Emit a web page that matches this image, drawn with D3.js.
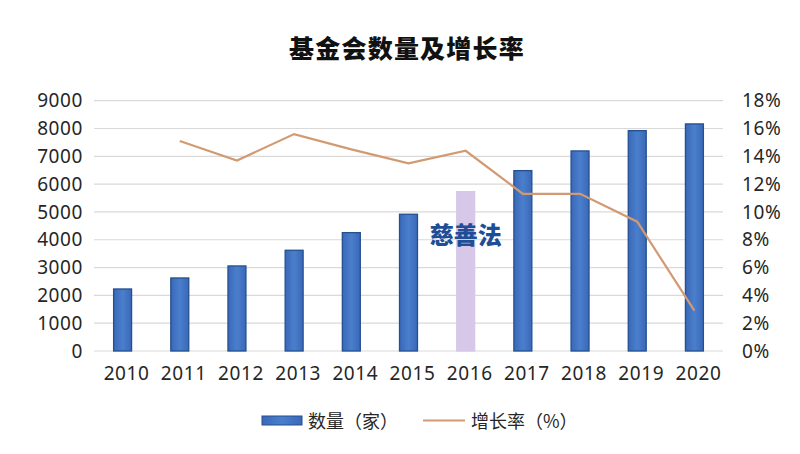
<!DOCTYPE html>
<html><head><meta charset="utf-8">
<script src="https://cdn.jsdelivr.net/npm/d3@7"></script>
<style>body{margin:0;background:#fff}svg{display:block}text{font-family:"Noto Sans CJK SC","Noto Sans",sans-serif}</style>
</head><body><svg id="c" width="800" height="454"></svg>
<script>
const years = ["2010","2011","2012","2013","2014","2015","2016","2017","2018","2019","2020"];
const counts = [2230,2626,3058,3622,4256,4917,5730,6486,7194,7924,8165];
const growth = [null,15.1,13.7,15.6,14.5,13.5,14.4,11.3,11.3,9.3,2.9];
const leftTicks = [0,1000,2000,3000,4000,5000,6000,7000,8000,9000];
const rightTicks = [0,2,4,6,8,10,12,14,16,18];
const highlightYear = "2016";
const annotation = "慈善法";
const title = "基金会数量及增长率";
const legendLabels = ["数量（家）","增长率（%）"];

const svg = d3.select("#c");
const L = 94, R = 723, T = 100.7, B = 351;
const x = d3.scaleBand().domain(years).range([L, R]).paddingInner(0.686).paddingOuter(0.343);
const y = d3.scaleLinear().domain([0, 9000]).range([B, T]);
const y2 = d3.scaleLinear().domain([0, 18]).range([B, T]);
const numFont = "'Noto Sans','Open Sans',sans-serif";

const defs = svg.append("defs");
const g = defs.append("linearGradient").attr("id","bg").attr("x1","0").attr("x2","1").attr("y1","0").attr("y2","0");
g.append("stop").attr("offset","0").attr("stop-color","#3a68b8");
g.append("stop").attr("offset","0.5").attr("stop-color","#4a7fcc");
g.append("stop").attr("offset","1").attr("stop-color","#3a68b8");

// gridlines
svg.append("g").selectAll("line").data(leftTicks).join("line")
  .attr("x1", L).attr("x2", R).attr("y1", d => y(d)).attr("y2", d => y(d))
  .attr("stroke", "#d9d9d9").attr("stroke-width", 1.2);

// title
svg.append("text").attr("x", 407).attr("y", 58).attr("text-anchor","middle")
  .attr("font-size", 25).attr("font-weight", 900).attr("fill","#111").attr("letter-spacing", 1.2).text(title);

// bars
svg.append("g").selectAll("rect").data(years).join("rect")
  .attr("x", d => x(d)).attr("width", x.bandwidth())
  .attr("y", (d,i) => y(counts[i])).attr("height", (d,i) => B - y(counts[i]))
  .attr("fill", d => d === highlightYear ? "#d7c8ea" : "url(#bg)")
  .attr("stroke", d => d === highlightYear ? "#d7c8ea" : "#24508f")
  .attr("stroke-width", 1.3);

// line
const line = d3.line().defined(d => d[1] != null).x(d => x(d[0]) + x.bandwidth()/2).y(d => y2(d[1]));
svg.append("path").datum(years.map((d,i) => [d, growth[i]]))
  .attr("d", line).attr("fill","none").attr("stroke","#d29a73").attr("stroke-width", 2.2);

// annotation
svg.append("text").attr("x", x(highlightYear) + x.bandwidth()/2).attr("y", 244)
  .attr("text-anchor","middle").attr("font-size", 24).attr("font-weight", 900)
  .attr("fill","#1f4e96").text(annotation);

// axes labels
const axL = d3.axisLeft(y).tickValues(leftTicks).tickFormat(d3.format("d")).tickSize(0).tickPadding(11);
svg.append("g").attr("transform", `translate(${L},0)`).call(axL)
  .call(s => s.select(".domain").remove())
  .selectAll("text").attr("font-size", 19).attr("letter-spacing", 0.6).attr("fill","#262626").style("font-family", numFont);
const axR = d3.axisRight(y2).tickValues(rightTicks).tickFormat(d => d + "%").tickSize(0).tickPadding(19);
svg.append("g").attr("transform", `translate(${R},0)`).call(axR)
  .call(s => s.select(".domain").remove())
  .selectAll("text").attr("font-size", 19).attr("letter-spacing", 0.6).attr("fill","#262626").style("font-family", numFont);
const axB = d3.axisBottom(x).tickSize(0).tickPadding(16);
svg.append("g").attr("transform", `translate(4,${B})`).call(axB)
  .call(s => s.select(".domain").remove())
  .selectAll("text").attr("font-size", 19).attr("letter-spacing", 0.6).attr("fill","#262626").style("font-family", numFont);

// legend
const lg = svg.append("g");
lg.append("rect").attr("x", 262).attr("y", 416).attr("width", 40).attr("height", 9)
  .attr("fill","url(#bg)").attr("stroke","#24508f").attr("stroke-width",1);
lg.append("text").attr("x", 308).attr("y", 428).attr("font-size", 18).attr("fill","#262626").text(legendLabels[0]);
lg.append("line").attr("x1", 423).attr("x2", 465).attr("y1", 420.5).attr("y2", 420.5)
  .attr("stroke","#d29a73").attr("stroke-width", 2.2);
lg.append("text").attr("x", 471).attr("y", 428).attr("font-size", 18).attr("fill","#262626").text(legendLabels[1]);
</script></body></html>
